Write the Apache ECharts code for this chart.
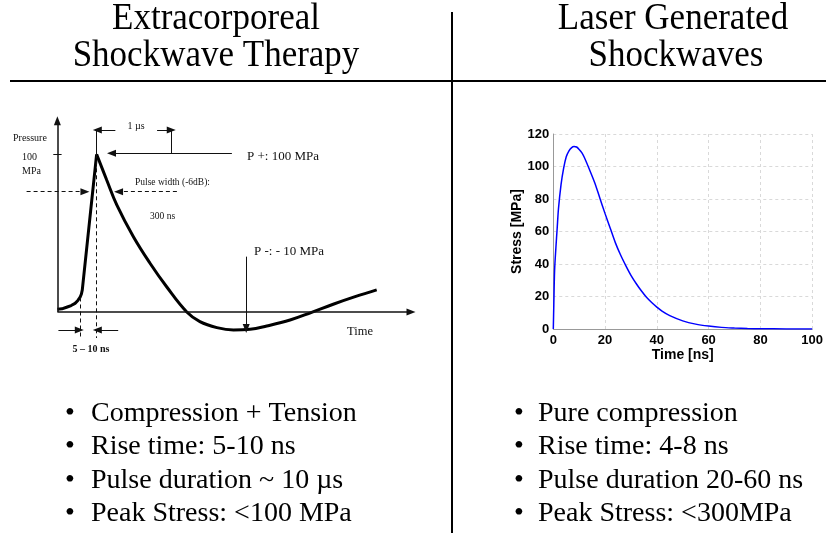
<!DOCTYPE html>
<html>
<head>
<meta charset="utf-8">
<script src="https://cdn.jsdelivr.net/npm/echarts@6/dist/echarts.min.js"></script>
<style>html,body{margin:0;padding:0;background:#fff}#c{width:826px;height:533px}</style>
</head>
<body>
<div id="c"></div>
<script>
// ---- Left panel: ESWT pressure pulse (schematic, arbitrary time units) ----
const leftRiseT  = [0, 1.3, 2.6, 3.9, 5.0, 5.8, 6.4, 6.8, 7.05, 11.1];
const leftRiseP  = [1.7, 2.0, 3.0, 4.1, 5.5, 7.3, 9.2, 11.4, 14, 100];
const leftDecayT = [11.1, 13.95, 16.8, 21.5, 26.2, 30.9, 36.6, 40.3, 45.1, 49.8, 54.5, 59.2, 65.8, 71.9, 78.0, 84.2, 90.3];
const leftDecayP = [100, 83.7, 67.9, 47.7, 30.9, 16, 0, -6.1, -9.9, -11.4, -11, -8.9, -5.1, -0.2, 4.9, 9.7, 14];

// ---- Right panel: laser generated shockwave (Stress [MPa] vs Time [ns]) ----
const rightTime   = [0, 0.2, 0.5, 1, 1.5, 2, 3, 4, 5, 6, 7, 8, 9, 10, 11, 12, 14, 16, 18, 20, 22, 24, 26, 28, 30, 32, 34, 36, 38, 40, 42, 45, 50, 55, 60, 65, 70, 75, 80, 90, 100];
const rightStress = [0, 15, 36, 50, 62, 74, 89, 99, 106, 109.5, 111.5, 112.3, 112, 110.5, 108.5, 105.5, 98, 90, 80.5, 71, 62, 53, 45.5, 39, 33, 28, 23.5, 19.5, 16.3, 13.5, 11, 8.2, 5, 3, 1.8, 1.0, 0.6, 0.3, 0.15, 0.05, 0.01];
const rightXTicks = [0, 20, 40, 60, 80, 100];
const rightYTicks = [0, 20, 40, 60, 80, 100, 120];

// ---- Slide text ----
const leftTitle   = ['Extracorporeal', 'Shockwave Therapy'];
const rightTitle  = ['Laser Generated', 'Shockwaves'];
const leftBullets  = ['Compression + Tension', 'Rise time: 5-10 ns', 'Pulse duration ~ 10 \u00b5s', 'Peak Stress: <100 MPa'];
const rightBullets = ['Pure compression', 'Rise time: 4-8 ns', 'Pulse duration 20-60 ns', 'Peak Stress: <300MPa'];

const SERIF = '"Liberation Serif", "Times New Roman", serif';
const SANS = '"Liberation Sans", Arial, sans-serif';

function pairs(xs, ys) { return xs.map((x, i) => [x, ys[i]]); }

function txt(text, x, y, size, align, weight, color) {
  return {
    type: 'text', silent: true,
    style: {
      text: text, x: x, y: y,
      font: (weight || 'normal') + ' ' + size + 'px ' + SERIF,
      fill: color || '#000',
      align: align || 'left', verticalAlign: 'middle',
      textAlign: align || 'left', textVerticalAlign: 'middle'
    }
  };
}
// text placed on a baseline and stretched vertically (condensed slide font look)
function tall(text, x, baseline, size, sy) {
  return {
    type: 'text', silent: true, x: x, y: baseline, scaleY: sy,
    style: {
      text: text, x: 0, y: -0.3375 * size,
      font: size + 'px ' + SERIF, fill: '#000',
      align: 'center', verticalAlign: 'middle',
      textAlign: 'center', textVerticalAlign: 'middle'
    }
  };
}
function ln(x1, y1, x2, y2, w) {
  return { type: 'line', silent: true, shape: { x1, y1, x2, y2 }, style: { stroke: '#000', lineWidth: w } };
}
// annotation segment in data coordinates of the left diagram
function seg(x1, y1, x2, y2, dashed, arrow, width) {
  const ls = { color: '#111', width: width || 1, type: dashed ? [4, 3] : 'solid' };
  return [
    { coord: [x1, y1], symbol: 'none', lineStyle: ls },
    { coord: [x2, y2], symbol: arrow ? 'triangle' : 'none', symbolSize: [7, 9], lineStyle: ls }
  ];
}

const graphics = [];
// title + separators
const tfs = 35;
graphics.push(tall(leftTitle[0], 216, 32, tfs, 1.08));
graphics.push(tall(leftTitle[1], 216, 69, tfs, 1.08));
graphics.push(tall(rightTitle[0], 673, 32, tfs, 1.08));
graphics.push(tall(rightTitle[1], 676, 69, tfs, 1.08));
graphics.push(ln(10, 81, 826, 81, 2));
graphics.push(ln(452, 12, 452, 533, 2));
// bullets
const bfs = 28;
const baselines = [423, 456.5, 490, 523.5];
leftBullets.forEach((b, i) => {
  graphics.push(txt('\u2022', 70, baselines[i] - 0.3375 * bfs, bfs, 'center'));
  graphics.push(txt(b, 91, baselines[i] - 0.3375 * bfs, bfs, 'left'));
});
rightBullets.forEach((b, i) => {
  graphics.push(txt('\u2022', 519, baselines[i] - 0.3375 * bfs, bfs, 'center'));
  graphics.push(txt(b, 538, baselines[i] - 0.3375 * bfs, bfs, 'left'));
});
// left diagram labels
const dk = '#111';
graphics.push(txt('Pressure', 13, 138, 10, 'left', 'normal', dk));
graphics.push(txt('100', 22, 157, 10, 'left', 'normal', dk));
graphics.push(txt('MPa', 22, 171, 10, 'left', 'normal', dk));
graphics.push(txt('1 \u00b5s', 136, 126, 10, 'center', 'normal', dk));
graphics.push(txt('P +: 100 MPa', 247, 157, 13, 'left', 'normal', dk));
graphics.push(txt('Pulse width (-6dB):', 135, 182, 9.5, 'left', 'normal', dk));
graphics.push(txt('300 ns', 150, 216, 9.5, 'left', 'normal', dk));
graphics.push(txt('P -: - 10 MPa', 254, 252, 13, 'left', 'normal', dk));
graphics.push(txt('Time', 347, 332, 12.5, 'left', 'normal', dk));
graphics.push(txt('5 \u2013 10 ns', 91, 349, 10, 'center', 'bold', dk));

const annotations = [
  seg(0, 0, 100, 0, false, true, 1.5),          // time axis
  seg(0, 0, 0, 121.3, false, true, 1.5),        // pressure axis
  seg(-1.15, 100, 1.2, 100, false, false, 1),   // 100 MPa tick
  seg(11.1, 100, 11.1, -16.5, true, false),     // peak dashed drop
  seg(6.4, 9.2, 6.4, -16.5, true, false),       // rise start dashed drop
  seg(0.3, -11.4, 6.2, -11.4, false, true),     // 5-10 ns arrows
  seg(17.2, -11.4, 11.3, -11.4, false, true),
  seg(11.1, 100, 11.1, 115.4, false, false),    // 1 us bracket
  seg(16.4, 115.4, 11.3, 115.4, false, true),
  seg(28.2, 115.4, 32.2, 115.4, false, true),
  seg(32.3, 115.4, 32.3, 100.6, false, false),
  seg(49.35, 100.6, 15.3, 100.6, false, true),  // P+ arrow
  seg(-8.7, 76.3, 7.8, 76.3, true, true),       // pulse width arrows
  seg(33.8, 76.3, 17.3, 76.3, true, true),
  seg(53.4, 35.1, 53.4, -10.4, false, true)     // P- arrow
];

const chart = echarts.init(document.getElementById('c'), null, { renderer: 'canvas' });
chart.setOption({
  animation: false,
  backgroundColor: '#fff',
  grid: [
    { left: 22, width: 389, top: 107, height: 252.3 },
    { left: 553.3, right: 12, top: 134, bottom: 204 }
  ],
  xAxis: [
    { gridIndex: 0, type: 'value', min: -10, max: 100, show: false },
    {
      gridIndex: 1, type: 'value', min: 0, max: 100, interval: 20,
      name: 'Time [ns]', nameLocation: 'middle', nameGap: 16,
      nameTextStyle: { fontFamily: SANS, fontWeight: 'bold', fontSize: 14, color: '#000' },
      axisLine: { show: true, onZero: false, lineStyle: { color: '#999', width: 1 } },
      axisTick: { show: false },
      axisLabel: { fontFamily: SANS, fontWeight: 'bold', fontSize: 13, color: '#000', margin: 5,
        formatter: v => rightXTicks.includes(v) ? String(v) : '' },
      splitLine: { show: true, lineStyle: { color: '#d9d9d9', type: [3, 3], width: 1 } }
    }
  ],
  yAxis: [
    { gridIndex: 0, type: 'value', min: -30, max: 130, show: false },
    {
      gridIndex: 1, type: 'value', min: 0, max: 120, interval: 20,
      name: 'Stress [MPa]', nameLocation: 'middle', nameGap: 29, nameRotate: 90,
      nameTextStyle: { fontFamily: SANS, fontWeight: 'bold', fontSize: 14, color: '#000' },
      axisLine: { show: true, lineStyle: { color: '#999', width: 1 } },
      axisTick: { show: false },
      axisLabel: { fontFamily: SANS, fontWeight: 'bold', fontSize: 13, color: '#000', margin: 4,
        formatter: v => rightYTicks.includes(v) ? String(v) : '' },
      splitLine: { show: true, lineStyle: { color: '#d9d9d9', type: [3, 3], width: 1 } }
    }
  ],
  series: [
    {
      name: 'ESWT rise', type: 'line', xAxisIndex: 0, yAxisIndex: 0,
      data: pairs(leftRiseT, leftRiseP), showSymbol: false, smooth: false, clip: false,
      lineStyle: { color: '#000', width: 3 }, silent: true
    },
    {
      name: 'ESWT decay', type: 'line', xAxisIndex: 0, yAxisIndex: 0,
      data: pairs(leftDecayT, leftDecayP), showSymbol: false, smooth: 0.4, clip: false,
      lineStyle: { color: '#000', width: 3 }, silent: true,
      markLine: {
        silent: true, animation: false, symbol: ['none', 'none'],
        label: { show: false }, emphasis: { disabled: true },
        data: annotations
      }
    },
    {
      name: 'Laser stress', type: 'line', xAxisIndex: 1, yAxisIndex: 1,
      data: pairs(rightTime, rightStress), showSymbol: false, smooth: 0.3,
      lineStyle: { color: '#0000ff', width: 1.5 }, silent: true
    }
  ],
  graphic: graphics
});
</script>
</body>
</html>
